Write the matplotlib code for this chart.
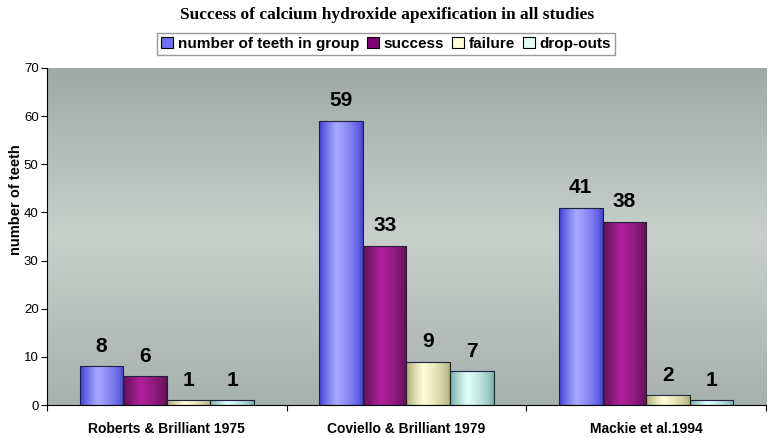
import numpy as np
import matplotlib.pyplot as plt
from matplotlib.colors import LinearSegmentedColormap
from matplotlib.patches import Rectangle

studies = ['Roberts & Brilliant 1975', 'Coviello & Brilliant 1979', 'Mackie et al.1994']
series = ['number of teeth in group', 'success', 'failure', 'drop-outs']
teeth = [8, 59, 41]
success = [6, 33, 38]
failure = [1, 9, 2]
dropouts = [1, 7, 1]
values = [teeth, success, failure, dropouts]

# (edge, highlight) colours for the shaded bars
shades = [('#3a3ad0', '#a8a8ff'),
          ('#55104a', '#b0209a'),
          ('#a8a870', '#ffffd8'),
          ('#70a8a0', '#e0fff8')]

fig = plt.figure(figsize=(7.69, 4.38), dpi=100)
ax = fig.add_axes([0.0611, 0.0753, 0.935, 0.7697])
ax.set_xlim(0, 3)
ax.set_ylim(0, 70)

# background vertical gradient
bg = LinearSegmentedColormap.from_list('bg', ['#a6b0ac', '#c9d0cc', '#9eaaa6'])
ax.imshow(np.linspace(0, 1, 256).reshape(-1, 1), cmap=bg, aspect='auto',
          extent=[0, 3, 0, 70], origin='lower', zorder=0)

bw = 1 / 5.5
start = 0.75 * bw
x = np.arange(len(studies))
grad = np.concatenate([np.linspace(0, 1, 40) ** 0.8, np.linspace(1, 0, 60) ** 0.6]).reshape(1, -1)
for k, (vals, (dark, light)) in enumerate(zip(values, shades)):
    cmap = LinearSegmentedColormap.from_list('s%d' % k, [dark, light])
    for i, v in enumerate(vals):
        x0 = x[i] + start + k * bw
        im = ax.imshow(grad, cmap=cmap, aspect='auto', extent=[x0, x0 + bw, 0, v], zorder=2)
        r = Rectangle((x0, 0), bw, v, fill=False, edgecolor='#202040', lw=0.8, zorder=3)
        ax.add_patch(r)
        im.set_clip_path(r)
        ax.text(x0 + bw / 2, v + 2.2, str(v), ha='center', va='bottom',
                fontsize=15, fontweight='bold', family='Liberation Sans')

ax.set_xticks([0, 1, 2, 3])
ax.set_xticklabels([])
ax.set_xticks(x + 0.5, minor=True)
ax.set_xticklabels(studies, minor=True, fontsize=10, fontweight='bold', family='Liberation Sans')
ax.tick_params(axis='x', which='minor', length=0, pad=12)
ax.tick_params(axis='x', which='major', length=4, direction='out')
ax.set_yticks(range(0, 71, 10))
ax.tick_params(axis='y', length=4, labelsize=9.5, pad=2)
for t in ax.get_yticklabels():
    t.set_family('Liberation Sans')
ax.spines['top'].set_visible(False)
ax.spines['right'].set_visible(False)

fig.text(0.021, 0.545, 'number of teeth', rotation=90, ha='center', va='center',
         fontsize=10.5, fontweight='bold', family='Liberation Sans')

fig.text(0.503, 0.965, 'Success of calcium hydroxide apexification in all studies',
         ha='center', va='center', fontsize=12.5, fontweight='bold', family='Liberation Serif')

handles = [Rectangle((0, 0), 1, 1, facecolor=l, edgecolor='black', lw=0.8) for d, l in shades]
handles[0].set_facecolor('#7070f0')
handles[1].set_facecolor('#800070')
leg = fig.legend(handles, series, loc='center', bbox_to_anchor=(0.502, 0.9),
                 ncol=4, frameon=True, fancybox=False, handlelength=0.8, handleheight=0.8,
                 handletextpad=0.3, columnspacing=0.5, borderpad=0.25,
                 prop={'family': 'Liberation Sans', 'weight': 'bold', 'size': 11})
leg.get_frame().set_edgecolor('#808080')
leg.get_frame().set_linewidth(1.0)

fig.savefig('out.png', dpi=100)
